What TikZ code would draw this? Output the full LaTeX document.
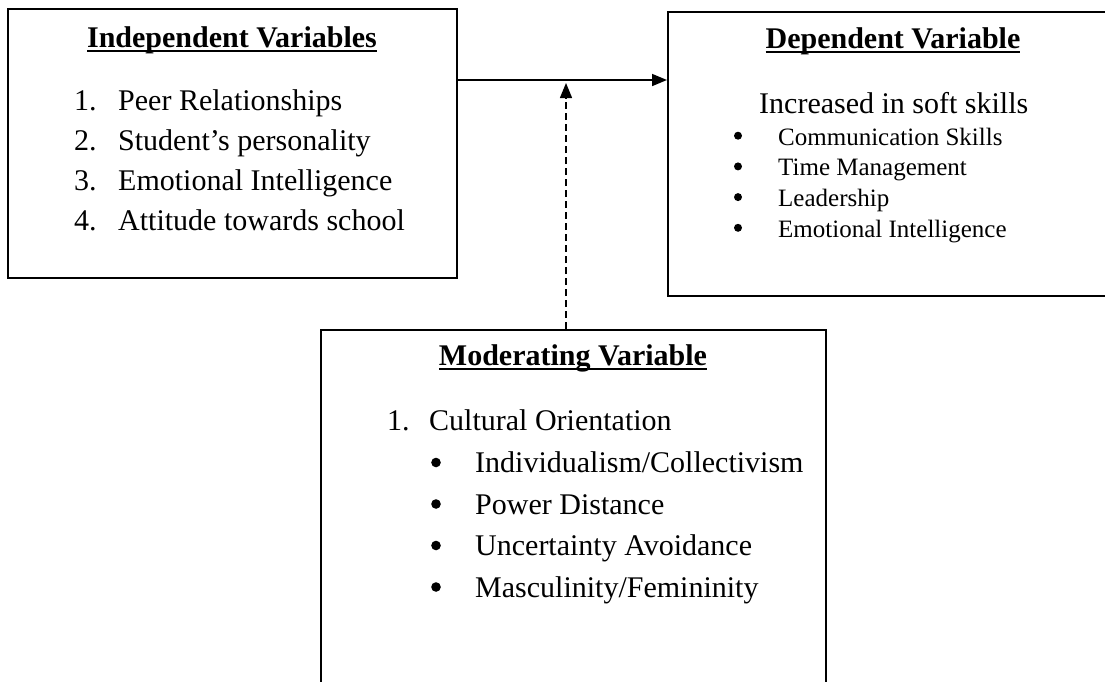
\documentclass[tikz,border=0pt]{standalone}
\usepackage{fontspec}
\setmainfont{Liberation Serif}
\usetikzlibrary{arrows.meta, positioning}

% underline drawn just under the baseline, cutting the descenders
\newcommand{\ulined}[1]{\setbox0=\hbox{#1}\rlap{\rule[-5pt]{\wd0}{1.8pt}}\box0}

\tikzset{
    varbox/.style={draw, line width=1.6pt, anchor=north west, inner sep=0pt},
    boxtitle/.style={anchor=base, inner sep=0pt, font=\bfseries\fontsize{30}{36}\selectfont},
    itemtext/.style={anchor=base west, inner sep=0pt, font=\fontsize{30}{36}\selectfont},
    smalltext/.style={anchor=base west, inner sep=0pt, font=\fontsize{25}{30}\selectfont}
}

\begin{document}
\begin{tikzpicture}[x=1pt, y=-1pt]
    \useasboundingbox (0,0) rectangle (1105,681);
    \clip (0,0) rectangle (1105,681);

    % the three boxes (right and bottom ones run off the page)
    \node[varbox, minimum width=449pt, minimum height=269pt] (indep) at (7,8) {};
    \node[varbox, minimum width=470pt, minimum height=284pt] (dep) at (667,11) {};
    \node[varbox, minimum width=505pt, minimum height=420pt] (moder) at (320,329) {};

    % Independent
    \node[boxtitle] (indeptitle) at (232,47) {\ulined{Independent Variables}};
    \foreach \txt [count=\i] in {Peer Relationships, Student’s personality,
                                 Emotional Intelligence, Attitude towards school} {
        \node[itemtext] (ivnum\i) at (74,{70+40*\i}) {\i.};
        \node[itemtext] (iv\i) at (118,{70+40*\i}) {\txt};
    }

    % Dependent
    \node[boxtitle] (deptitle) at (893,48) {\ulined{Dependent Variable}};
    \node[itemtext] (dvhead) at (759,113) {Increased in soft skills};
    \foreach \txt [count=\i] in {Communication Skills, Time Management,
                                 Leadership, Emotional Intelligence} {
        \fill (738,{105+30.7*\i}) circle (4);
        \node[smalltext] (dv\i) at (778,{114.3+30.7*\i}) {\txt};
    }

    % Moderating
    \node[boxtitle] (modtitle) at (573,365) {\ulined{Moderating Variable}};
    \node[itemtext] (mvnum) at (387,430) {1.};
    \node[itemtext] (mvhead) at (429,430) {Cultural Orientation};
    \foreach \txt [count=\i] in {Individualism/Collectivism, Power Distance,
                                 Uncertainty Avoidance, Masculinity/Femininity} {
        \fill (436,{421+41.5*\i}) circle (4.8);
        \node[itemtext] (mv\i) at (475,{431+41.5*\i}) {\txt};
    }

    % connectors
    \coordinate (arrowrow) at (0,80);
    \coordinate (meet) at (566,83);
    \draw[line width=1.6pt, -{Triangle[length=15pt, width=12pt]}]
        (indep.east |- arrowrow) -- (dep.west |- arrowrow);
    \draw[line width=1.4pt, dash pattern=on 7pt off 4pt, -{Triangle[length=15pt, width=12pt]}]
        (moder.north -| meet) -- (meet);
\end{tikzpicture}
\end{document}
